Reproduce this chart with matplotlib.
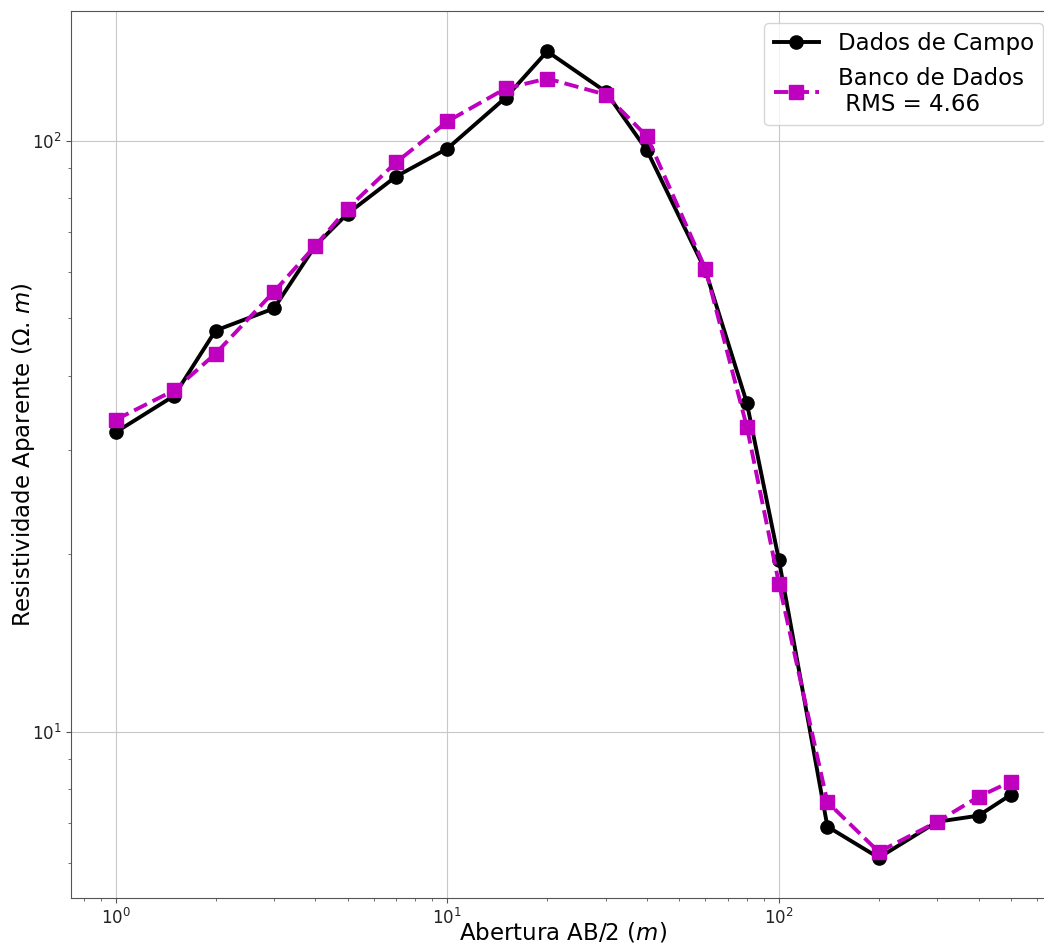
import numpy as np
import matplotlib
matplotlib.use('Agg')
import matplotlib.pyplot as plt

ab2 = [1, 1.5, 2, 3, 4, 5, 7, 10, 15, 20, 30, 40, 60, 80, 100, 140, 200, 300, 400, 500]
rho_campo = [32.1, 37.0, 47.7, 52.0, 66.4, 75.2, 86.9, 96.9, 118.2, 141.5, 121.0, 96.2,
             60.3, 36.0, 19.5, 6.91, 6.12, 7.04, 7.21, 7.82]
rho_banco = [33.7, 37.8, 43.6, 55.5, 66.4, 76.7, 91.8, 107.7, 122.5, 127.3, 119.6, 101.6,
             60.7, 32.8, 17.8, 7.6, 6.26, 7.04, 7.76, 8.23]
rms = 4.66

fig = plt.figure(figsize=(10.44, 9.46), dpi=100)
ax = fig.add_axes([0.068, 0.0507, 0.943, 0.9376])

ax.loglog(ab2, rho_campo, '-o', color='black', lw=2.8, ms=9.5, label='Dados de Campo')
ax.loglog(ab2, rho_banco, '--s', color='m', lw=2.8, ms=9.5,
          label='Banco de Dados\n RMS = %.2f' % rms)

ax.grid(True, which='major', color='#c8c8c8', lw=0.8)
for s in ax.spines.values():
    s.set_color('#555555')
ax.tick_params(which='both', colors='#555555', labelcolor='#222222', labelsize=12)

ax.set_xlabel('Abertura AB/2 ($m$)', fontsize=16.5, labelpad=-5)
ax.set_ylabel('Resistividade Aparente ($\\Omega$. $m$)', fontsize=16.5, labelpad=-4)

ax.legend(fontsize=16.5, loc='upper right', bbox_to_anchor=(1043/1044, 1 - 23/946),
          bbox_transform=fig.transFigure, borderaxespad=0, handlelength=2)

fig.savefig('out.png', dpi=100)
